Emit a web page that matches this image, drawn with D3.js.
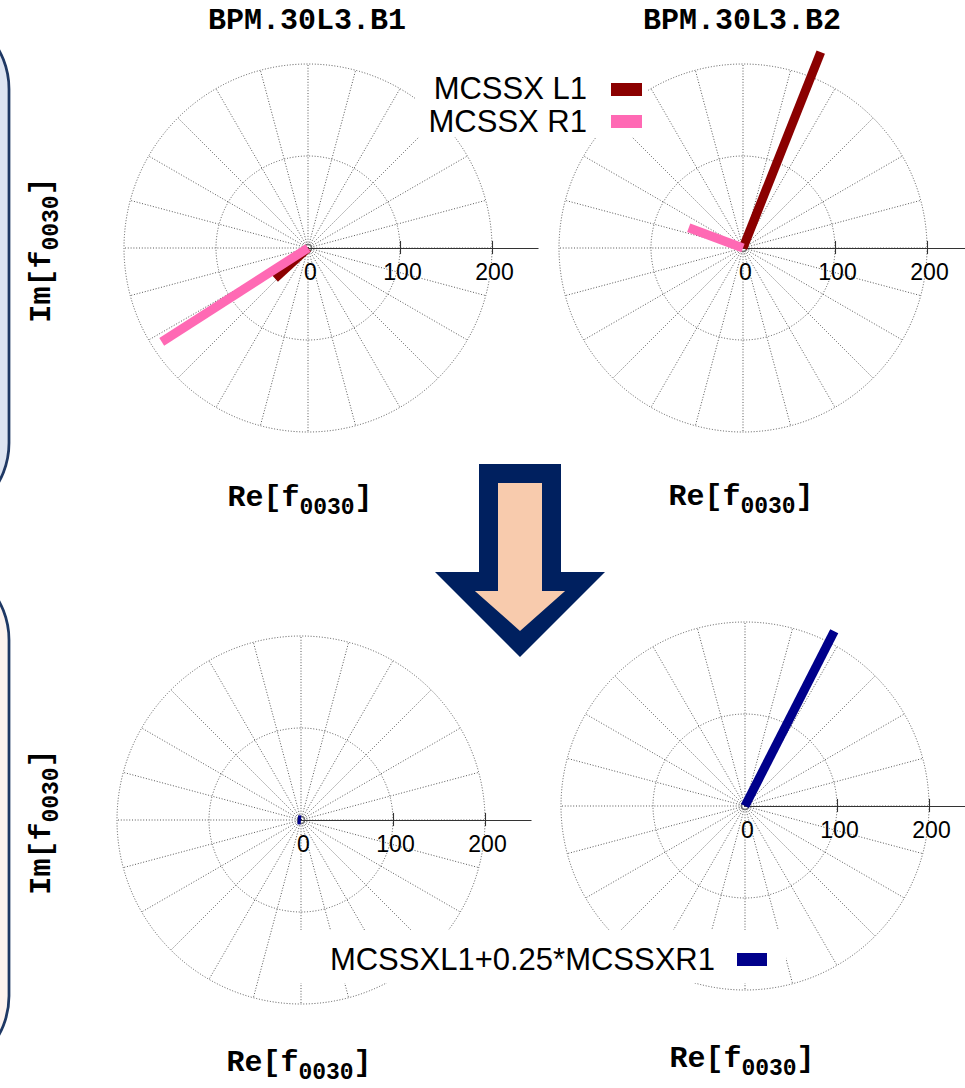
<!DOCTYPE html>
<html>
<head>
<meta charset="utf-8">
<script src="https://cdn.jsdelivr.net/npm/d3@7"></script>
<style>
  html, body { margin: 0; padding: 0; background: #ffffff; }
  svg { display: block; }
  .mono { font-family: "Liberation Mono", "Courier New", monospace; font-weight: bold; fill: #000; }
  .sans { font-family: "Liberation Sans", Arial, Helvetica, sans-serif; fill: #000; }
</style>
</head>
<body>
<svg id="chart" width="965" height="1088"></svg>
<script>
// BPM names (column titles)
const bpmNames = ["BPM.30L3.B1", "BPM.30L3.B2"];

// f0030 resonance driving term at each BPM, as [Re, Im]
const mcssxL1 = [[-36, -33], [84.5, 213]];
const mcssxR1 = [[-159, -102], [-59, 22]];
const corrected = [[-3.5, 0.3], [97, 190]];

// series names for the keys
const topSeries = ["MCSSX L1", "MCSSX R1"];
const bottomSeries = ["MCSSXL1+0.25*MCSSXR1"];

// radial axis ticks and grid
const radialTicks = [0, 100, 200];
const gridCircles = [100, 200];
const spokeAngles = d3.range(0, 360, 15);

const colors = { l1: "#8b0000", r1: "#ff69b4", corr: "#00008b" };

const svg = d3.select("#chart");

// ---- framing boxes on the left edge ----
const frames = [
  { y: 9, h: 514, fill: "#dde4f2" },
  { y: 560, h: 516, fill: "#fdf3ef" }
];
svg.selectAll("rect.frame").data(frames).join("rect")
  .attr("class", "frame")
  .attr("x", -300).attr("y", d => d.y)
  .attr("width", 309).attr("height", d => d.h)
  .attr("rx", 80).attr("ry", 80)
  .attr("fill", d => d.fill)
  .attr("stroke", "#1f3864").attr("stroke-width", 2.75);

// ---- polar panels ----
const panels = [
  { cx: 308, cy: 248, series: [{ data: mcssxL1[0], color: colors.l1 }, { data: mcssxR1[0], color: colors.r1 }], axisEnd: 250 },
  { cx: 743, cy: 248, series: [{ data: mcssxL1[1], color: colors.l1 }, { data: mcssxR1[1], color: colors.r1 }], axisEnd: 250 },
  { cx: 301, cy: 820, series: [{ data: corrected[0], color: colors.corr }], axisEnd: 250 },
  { cx: 745, cy: 806, series: [{ data: corrected[1], color: colors.corr }], axisEnd: 250 }
];

const rScale = d3.scaleLinear().domain([0, 200]).range([0, 184]);
const xScale = d3.scaleLinear().domain([-250, 250]).range([-230, 230]);
const yScale = d3.scaleLinear().domain([-250, 250]).range([230, -230]);

const gridLayer = svg.append("g");
const maskLayer = svg.append("g");
const markLayer = svg.append("g");

const gridStyle = sel => sel
  .attr("stroke", "#3a3a3a").attr("stroke-width", 0.85)
  .attr("stroke-dasharray", "1,1.8");

panels.forEach(p => {
  const g = gridLayer.append("g").attr("transform", `translate(${p.cx},${p.cy})`);
  // spokes every 15 degrees
  g.selectAll("line.spoke").data(spokeAngles).join("line")
    .attr("x1", 0).attr("y1", 0)
    .attr("x2", a => rScale(200) * Math.cos(a * Math.PI / 180))
    .attr("y2", a => -rScale(200) * Math.sin(a * Math.PI / 180))
    .call(gridStyle);
  // circles
  g.selectAll("circle.grid").data(gridCircles).join("circle")
    .attr("r", d => rScale(d))
    .attr("fill", "none")
    .call(gridStyle);
  g.append("circle").attr("r", 4).attr("fill", "none")
    .attr("stroke", "#555").attr("stroke-width", 0.8);
});

// white key backgrounds hide the grid beneath them
maskLayer.append("rect").attr("x", 415).attr("y", 68).attr("width", 233).attr("height", 69).attr("fill", "#fff");
maskLayer.append("rect").attr("x", 290).attr("y", 930).attr("width", 496).attr("height", 53).attr("fill", "#fff");

panels.forEach(p => {
  const g = markLayer.append("g").attr("transform", `translate(${p.cx},${p.cy})`);
  // radial axis along the positive real direction
  const axisScale = d3.scaleLinear().domain([0, p.axisEnd]).range([0, rScale(p.axisEnd)]);
  const ax = g.append("g").call(
    d3.axisBottom(axisScale).tickValues(radialTicks).tickSizeOuter(0).tickFormat(d3.format("d"))
  );
  ax.select(".domain").attr("stroke", "#333").attr("stroke-width", 1.1);
  ax.selectAll(".tick line")
    .attr("y1", -7).attr("y2", 6)
    .attr("stroke", "#333").attr("stroke-width", 1.1)
    .style("display", d => d === 0 ? "none" : null);
  ax.selectAll(".tick text")
    .attr("y", 32).attr("dy", null).attr("x", 2)
    .attr("font-family", "Liberation Sans, Arial, Helvetica, sans-serif")
    .attr("font-size", 23).attr("fill", "#000");

  // vectors from the origin
  g.selectAll("line.vec").data(p.series).join("line")
    .attr("class", "vec")
    .attr("x1", xScale(0)).attr("y1", yScale(0))
    .attr("x2", d => xScale(d.data[0]))
    .attr("y2", d => yScale(d.data[1]))
    .attr("stroke", d => d.color)
    .attr("stroke-width", 9)
    .attr("stroke-linecap", "butt");
});

// ---- titles ----
svg.selectAll("text.title").data(bpmNames).join("text")
  .attr("class", "mono")
  .attr("x", (d, i) => [307, 742][i]).attr("y", 29)
  .attr("text-anchor", "middle").attr("font-size", 30)
  .text(d => d);

// ---- axis labels with subscript ----
function subLabel(sel, main, sub) {
  sel.append("tspan").text(main);
  sel.append("tspan").attr("dy", 8).attr("font-size", 23).text(sub);
  sel.append("tspan").attr("dy", -8).text("]");
}
const reLabels = [[300, 506], [741, 505], [299, 1071], [742, 1067]];
reLabels.forEach(([x, y]) => {
  const t = svg.append("text").attr("class", "mono").attr("x", x).attr("y", y)
    .attr("text-anchor", "middle").attr("font-size", 30);
  subLabel(t, "Re[f", "0030");
});
const imLabels = [[50, 250], [50, 822]];
imLabels.forEach(([x, y]) => {
  const t = svg.append("text").attr("class", "mono")
    .attr("transform", `translate(${x},${y}) rotate(-90)`)
    .attr("text-anchor", "middle").attr("font-size", 30);
  subLabel(t, "Im[f", "0030");
});

// ---- keys ----
const keyTop = svg.append("g");
const topKeyColors = [colors.l1, colors.r1];
keyTop.selectAll("text").data(topSeries).join("text")
  .attr("class", "sans").attr("font-size", 31)
  .attr("x", 587).attr("y", (d, i) => 99 + i * 33)
  .attr("text-anchor", "end").text(d => d);
keyTop.selectAll("rect").data(topSeries).join("rect")
  .attr("x", 611).attr("y", (d, i) => 83 + i * 32)
  .attr("width", 31).attr("height", 13)
  .attr("fill", (d, i) => topKeyColors[i]);

const keyBottom = svg.append("g");
keyBottom.selectAll("text").data(bottomSeries).join("text")
  .attr("class", "sans").attr("font-size", 31)
  .attr("x", 715).attr("y", 970)
  .attr("text-anchor", "end").text(d => d);
keyBottom.selectAll("rect").data(bottomSeries).join("rect")
  .attr("x", 737).attr("y", 953).attr("width", 30).attr("height", 13)
  .attr("fill", colors.corr);

// ---- transition arrow between the two rows ----
const arrow = { cx: 520, top: 464, shaftHalf: 41, headHalf: 85, headY: 572, tip: 657, border: 19 };
function arrowPath(a, inset) {
  const s = a.shaftHalf - inset, h = a.headHalf - inset * 2.1;
  const top = a.top + inset, hy = a.headY + inset, tip = a.tip - inset * 1.37;
  return [[a.cx - s, top], [a.cx + s, top], [a.cx + s, hy], [a.cx + h, hy],
          [a.cx, tip], [a.cx - h, hy], [a.cx - s, hy]];
}
const line = d3.line();
svg.append("path").attr("d", line(arrowPath(arrow, 0)) + "Z").attr("fill", "#00205f");
svg.append("path").attr("d", line(arrowPath(arrow, arrow.border)) + "Z").attr("fill", "#f8cbad");
</script>
</body>
</html>
